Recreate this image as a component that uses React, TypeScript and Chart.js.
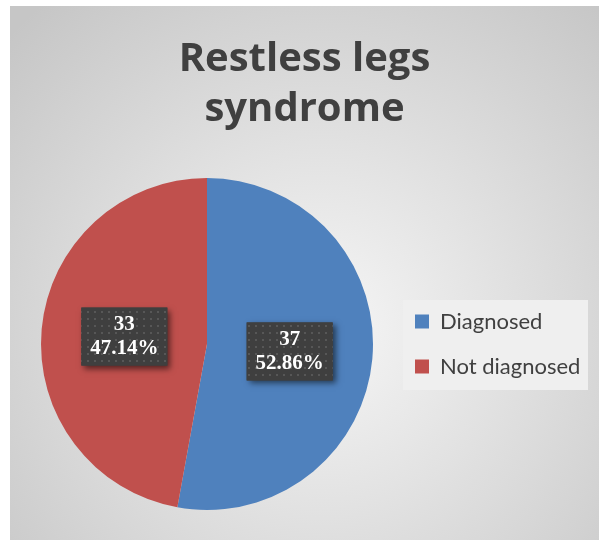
import React, { useEffect, useRef } from "react";
import { Chart, registerables } from "chart.js";

Chart.register(...registerables);

// ---- data ----
const categories = ["Diagnosed", "Not diagnosed"];
const counts = [37, 33];
const percentLabels = ["52.86%", "47.14%"];
const sliceColors = ["#4F81BD", "#C0504D"];
const titleLines = ["Restless legs", "syndrome"];

const W = 599;
const H = 540;
const LEGEND_WIDTH = 195;
const LEG_PAD = 23;
const LEG_FONT = 22;

function makeDotPattern(ctx: CanvasRenderingContext2D) {
  const c = document.createElement("canvas");
  c.width = 7;
  c.height = 7;
  const p = c.getContext("2d")!;
  p.fillStyle = "#3f3f3f";
  p.fillRect(0, 0, 7, 7);
  p.fillStyle = "#575757";
  p.fillRect(3, 3, 2, 2);
  return ctx.createPattern(c, "repeat");
}

const backgroundPlugin = {
  id: "bgPanel",
  beforeLayout(chart: any) {
    const lg = chart.legend;
    if (lg && !lg.__fixedWidth) {
      const orig = lg.fit;
      lg.fit = function () {
        orig.call(this);
        this.width = LEGEND_WIDTH;
      };
      lg.__fixedWidth = true;
    }
  },
  beforeDraw(chart: any) {
    const ctx = chart.ctx as CanvasRenderingContext2D;
    ctx.save();
    ctx.fillStyle = "#ffffff";
    ctx.fillRect(0, 0, W, H);
    const g = ctx.createRadialGradient(322, 330, 0, 322, 330, 430);
    g.addColorStop(0, "#f6f6f6");
    g.addColorStop(1, "#c6c6c6");
    ctx.fillStyle = g;
    ctx.fillRect(10, 6, W - 10, H - 6);
    const lg = chart.legend;
    if (lg) {
      const cy = (lg.top + lg.bottom) / 2;
      ctx.fillStyle = "#efefef";
      ctx.fillRect(lg.left + 11, cy - 44, 185, 90);
    }
    ctx.restore();
  },
};

const dataLabelPlugin = {
  id: "dataBoxes",
  afterDatasetsDraw(chart: any) {
    const ctx = chart.ctx as CanvasRenderingContext2D;
    const meta = chart.getDatasetMeta(0);
    const pattern = makeDotPattern(ctx);
    meta.data.forEach((arc: any, i: number) => {
      const { x, y } = arc.tooltipPosition();
      const bw = 86;
      const bh = 58;
      ctx.save();
      ctx.shadowColor = "rgba(0,0,0,0.55)";
      ctx.shadowBlur = 6;
      ctx.shadowOffsetX = 3;
      ctx.shadowOffsetY = 3;
      ctx.fillStyle = "#3f3f3f";
      ctx.fillRect(x - bw / 2, y - bh / 2, bw, bh);
      ctx.restore();
      ctx.save();
      if (pattern) {
        ctx.fillStyle = pattern;
        ctx.fillRect(x - bw / 2, y - bh / 2, bw, bh);
      }
      ctx.fillStyle = "#ffffff";
      ctx.font = 'bold 21px "Liberation Serif", "Times New Roman", serif';
      ctx.textAlign = "center";
      ctx.textBaseline = "middle";
      ctx.fillText(String(counts[i]), x, y - 12);
      ctx.fillText(percentLabels[i], x, y + 12);
      ctx.restore();
    });
  },
};

export default function App() {
  const ref = useRef<HTMLCanvasElement | null>(null);
  useEffect(() => {
    if (!ref.current) return;
    const chart = new Chart(ref.current, {
      type: "pie",
      data: {
        labels: categories,
        datasets: [
          {
            data: counts,
            backgroundColor: sliceColors,
            borderWidth: 0,
          },
        ],
      },
      options: {
        responsive: false,
        animation: false,
        devicePixelRatio: 1,
        layout: { padding: { left: LEG_PAD - 1, right: LEG_PAD - 11, top: 0, bottom: 30 } },
        plugins: {
          title: {
            display: true,
            text: titleLines,
            color: "#404040",
            font: { family: "Open Sans", weight: "bold", size: 40, lineHeight: "50px" },
            padding: { top: 34.5, bottom: 43.5 },
          },
          legend: {
            display: true,
            position: "right",
            align: "center",
            fullSize: false,
            maxWidth: LEGEND_WIDTH,
            labels: {
              boxWidth: 14,
              boxHeight: 14,
              padding: LEG_PAD,
              color: "#404040",
              font: { family: "Lato", size: LEG_FONT },
            },
          },
          tooltip: { enabled: false },
        },
      },
      plugins: [backgroundPlugin, dataLabelPlugin],
    } as any);
    return () => chart.destroy();
  }, []);
  return (
    <div style={{ position: "absolute", left: 0, top: 0, width: W, height: H }}>
      <canvas ref={ref} width={W} height={H} style={{ display: "block" }} />
    </div>
  );
}
